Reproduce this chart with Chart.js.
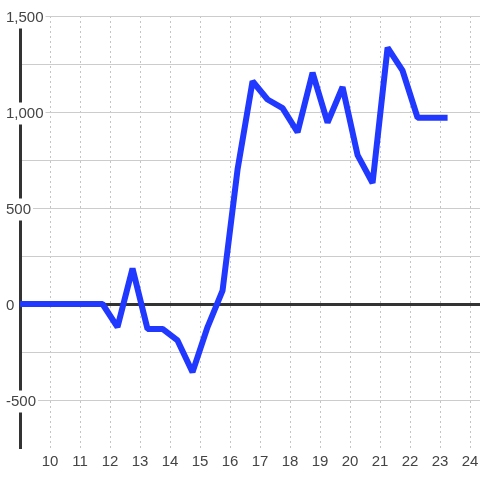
<!DOCTYPE html>
<html>
<head>
<meta charset="utf-8">
<script src="https://cdn.jsdelivr.net/npm/chart.js@4.4.0/dist/chart.umd.min.js"></script>
<style>
  html, body { margin: 0; padding: 0; background: #fff; }
</style>
</head>
<body>
<canvas id="chart" width="480" height="480"></canvas>
<script>
// values, half-unit steps
const xValues = [8.75, 9.25, 9.75, 10.25, 10.75, 11.25, 11.75, 12.25, 12.75, 13.25, 13.75,
  14.25, 14.75, 15.25, 15.75, 16.25, 16.75, 17.25, 17.75, 18.25, 18.75, 19.25, 19.75,
  20.25, 20.75, 21.25, 21.75, 22.25, 22.75, 23.25];
const yValues = [0, 0, 0, 0, 0, 0, 0, -120, 185, -130, -130,
  -190, -355, -120, 70, 700, 1160, 1065, 1020, 895, 1205, 945, 1130,
  775, 630, 1335, 1215, 970, 970, 970];

const xTicks = [10, 11, 12, 13, 14, 15, 16, 17, 18, 19, 20, 21, 22, 23, 24];
const yTicks = [-500, -250, 0, 250, 500, 750, 1000, 1250, 1500];

const tickFont = { family: 'Liberation Sans', size: 15 };

const ctx = document.getElementById('chart').getContext('2d');
const chart = new Chart(ctx, {
  type: 'line',
  data: {
    datasets: [{
      data: xValues.map((x, i) => ({ x: x, y: yValues[i] })),
      borderColor: '#2138ff',
      borderWidth: 6,
      borderJoinStyle: 'bevel',
      pointRadius: 0,
      tension: 0,
      fill: false
    }]
  },
  options: {
    responsive: false,
    animation: false,
    layout: { padding: { left: 20, top: 16, right: 0, bottom: 4.5 } },
    plugins: {
      legend: { display: false },
      tooltip: { enabled: false }
    },
    scales: {
      x: {
        type: 'linear',
        min: 9,
        max: 24.33,
        afterBuildTicks: axis => { axis.ticks = xTicks.map(v => ({ value: v })); },
        grid: { color: '#c4c4c4', lineWidth: 1, drawTicks: false },
        border: { display: false, dash: [2, 3] },
        ticks: {
          font: { family: 'Liberation Sans', size: 15, lineHeight: 1.7 },
          color: '#444',
          padding: 1,
          maxRotation: 0,
          autoSkip: false,
          callback: v => String(v)
        }
      },
      y: {
        min: -750,
        max: 1500,
        afterBuildTicks: axis => { axis.ticks = yTicks.map(v => ({ value: v })); },
        grid: {
          color: c => (c.tick && c.tick.value === 0) ? '#333' : '#cccccc',
          lineWidth: c => (c.tick && c.tick.value === 0) ? 3 : 1,
          tickLength: 28,
          tickColor: 'rgba(0,0,0,0)'
        },
        border: { color: '#333', width: 3 },
        ticks: {
          mirror: true,
          padding: -14,
          labelOffset: 1.5,
          font: tickFont,
          color: '#444',
          callback: v => (v % 500 === 0) ? v.toLocaleString('en-US') : '',
          showLabelBackdrop: c => c.tick.value % 500 === 0,
          backdropColor: '#fff',
          backdropPadding: 2
        }
      }
    }
  }
});
</script>
</body>
</html>
